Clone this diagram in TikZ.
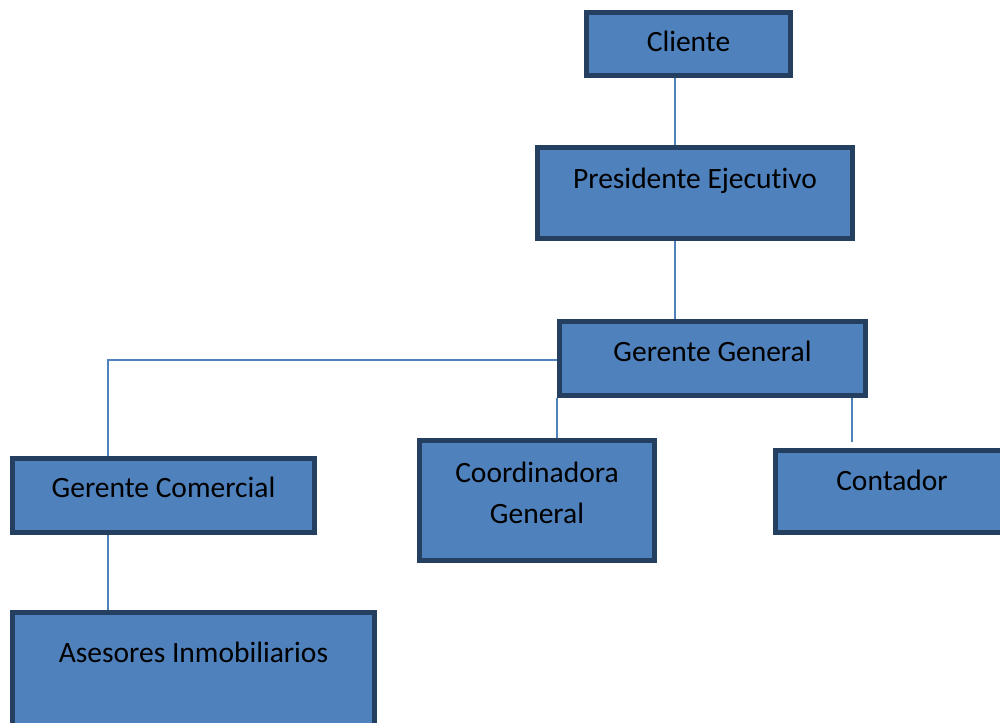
\documentclass[tikz,border=0pt]{standalone}
\usepackage{fontspec}
\setmainfont[Ligatures=NoCommon]{Carlito}
\usepackage{tikz}
\definecolor{cajaazul}{HTML}{4F81BD}
\definecolor{bordeazul}{HTML}{243F60}

\begin{document}
\begin{tikzpicture}
[x=1pt,y=-1pt,
 cargo/.style={draw=bordeazul,line width=5pt,fill=cajaazul,text=black,
   align=center,inner sep=0pt,text height=20pt,
   font=\fontsize{29.5}{41}\selectfont},
 conn/.style={draw=cajaazul,line width=2pt}]
\useasboundingbox (0,0) rectangle (1000,722);
\node[cargo,minimum width=204pt,minimum height=63pt,text depth=4pt]
  (cli) at (688.5,44) {Cliente};
\node[cargo,minimum width=315pt,minimum height=91pt,text depth=30pt]
  (pres) at (695,193) {Presidente Ejecutivo};
\node[cargo,minimum width=306pt,minimum height=74pt,text depth=15pt]
  (gg) at (712.5,358.5) {Gerente General};
\node[cargo,minimum width=302pt,minimum height=74pt,text depth=17pt]
  (gc) at (163.5,495.5) {Gerente Comercial};
\node[cargo,minimum width=235pt,minimum height=120pt,text height=45pt,text depth=0pt]
  (coord) at (537,500.5) {Coordinadora\\General};
\node[cargo,minimum width=233pt,minimum height=82pt,text depth=23pt]
  (cont) at (892,491.5) {Contador};
\node[cargo,minimum width=362pt,minimum height=130pt,text depth=51pt]
  (ases) at (193.5,677.5) {Asesores Inmobiliarios};
% ejes de las lineas
\coordinate (eje) at (675,0);
\coordinate (izq) at (108,0);
\coordinate (der) at (852,0);
\path[conn]
(cli.south -| eje) edge (pres.north -| eje)
(pres.south -| eje) edge (gg.north -| eje)
(gg.south west) edge (gg.south west |- coord.north)
(gg.south -| der) edge ([yshift=6pt]cont.north -| der)
(gc.south -| izq) edge (ases.north -| izq);
\draw[conn] ([yshift=-1.5pt]gg.west) -| (gc.north -| izq);
\end{tikzpicture}
\end{document}
